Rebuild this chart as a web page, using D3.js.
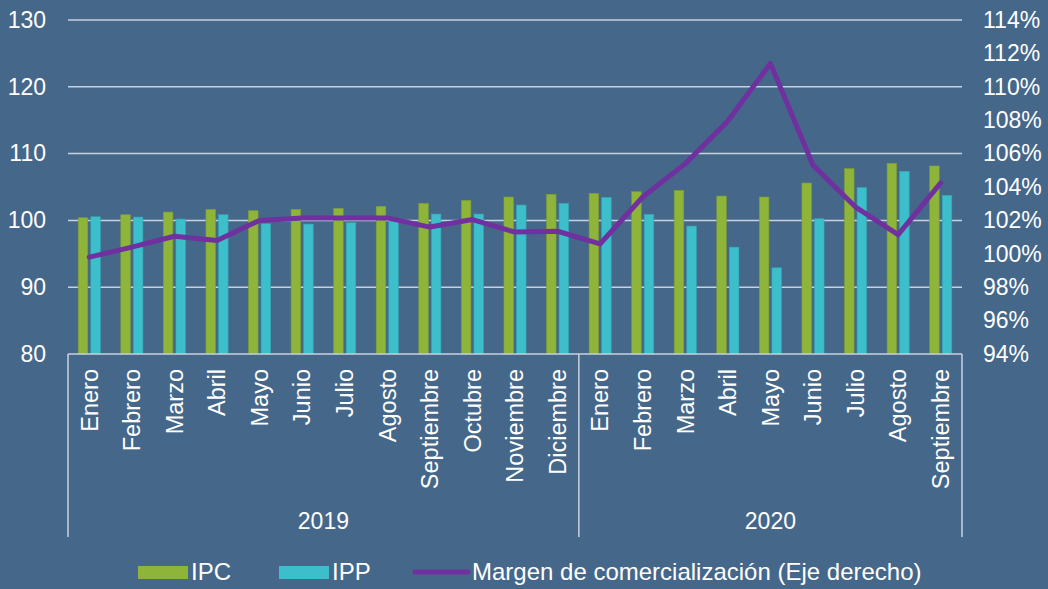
<!DOCTYPE html>
<html>
<head>
<meta charset="utf-8">
<script src="https://cdn.jsdelivr.net/npm/d3@7"></script>
<style>
  html, body { margin: 0; padding: 0; background: #45678a; }
  svg { display: block; font-family: "Liberation Sans", Arial, sans-serif; }
</style>
</head>
<body>
<div id="chart-container"></div>
<script>
// data
const months = ['Enero', 'Febrero', 'Marzo', 'Abril', 'Mayo', 'Junio', 'Julio', 'Agosto',
  'Septiembre', 'Octubre', 'Noviembre', 'Diciembre',
  'Enero', 'Febrero', 'Marzo', 'Abril', 'Mayo', 'Junio', 'Julio', 'Agosto', 'Septiembre'];
const years = [{label: '2019', count: 12}, {label: '2020', count: 9}];
const ipc = [100.4, 100.85, 101.25, 101.65, 101.45, 101.65, 101.8, 102.1, 102.55, 103.0, 103.5, 103.9,
  104.05, 104.3, 104.5, 103.65, 103.5, 105.6, 107.75, 108.55, 108.15];
const ipp = [100.55, 100.5, 100.2, 100.85, 99.5, 99.45, 99.65, 99.9, 100.95, 100.95, 102.3, 102.55,
  103.45, 100.9, 99.15, 96.0, 92.9, 100.25, 104.9, 107.35, 103.75];
const margen = [99.8, 100.4, 101.05, 100.8, 102.0, 102.15, 102.15, 102.15, 101.6, 102.05, 101.3, 101.35,
  100.6, 103.4, 105.4, 107.95, 111.4, 105.3, 102.8, 101.15, 104.25];
const leftTicks = [80, 90, 100, 110, 120, 130];
const rightTicks = [94, 96, 98, 100, 102, 104, 106, 108, 110, 112, 114];

const width = 1048, height = 589;
const plot = {left: 68, right: 962, top: 20, bottom: 354};
const colors = {ipc: '#8fb43a', ipp: '#3cbfcb', line: '#7030a0', grid: '#c8d1de', text: '#ffffff'};
const font = '"Liberation Sans", Arial, sans-serif';

const svg = d3.select('#chart-container').append('svg')
  .attr('width', width)
  .attr('height', height);

// scales
const x = d3.scaleBand().domain(d3.range(months.length)).range([plot.left, plot.right]);
const sub = d3.scaleBand().domain(['ipc', 'ipp']).range([x.bandwidth() * 0.24, x.bandwidth() * 0.76]).paddingInner(0.24);
const yLeft = d3.scaleLinear().domain([80, 130]).range([plot.bottom, plot.top]);
const yRight = d3.scaleLinear().domain([94, 114]).range([plot.bottom, plot.top]);

// gridlines
svg.append('g')
  .selectAll('line')
  .data(leftTicks.slice(1))
  .enter()
  .append('line')
  .attr('x1', plot.left)
  .attr('x2', plot.right)
  .attr('y1', d => yLeft(d))
  .attr('y2', d => yLeft(d))
  .attr('stroke', colors.grid)
  .attr('stroke-width', 1.5);

// left axis
const leftAxis = svg.append('g')
  .attr('transform', `translate(${plot.left},0)`)
  .call(d3.axisLeft(yLeft).tickValues(leftTicks).tickSize(0).tickPadding(22));
leftAxis.select('.domain').remove();
leftAxis.selectAll('text')
  .attr('fill', colors.text)
  .style('font-size', '23px')
  .style('font-family', font);

// right axis
const rightAxis = svg.append('g')
  .attr('transform', `translate(${plot.right},0)`)
  .call(d3.axisRight(yRight).tickValues(rightTicks).tickSize(0).tickPadding(21).tickFormat(d => d + '%'));
rightAxis.select('.domain').remove();
rightAxis.selectAll('text')
  .attr('fill', colors.text)
  .style('font-size', '23px')
  .style('font-family', font);

// bars
const groups = svg.append('g')
  .selectAll('g')
  .data(months.map((m, i) => ({i, ipc: ipc[i], ipp: ipp[i]})))
  .enter()
  .append('g')
  .attr('transform', d => `translate(${x(d.i)},0)`);

['ipc', 'ipp'].forEach(key => {
  groups.append('rect')
    .attr('x', sub(key))
    .attr('width', sub.bandwidth())
    .attr('y', d => yLeft(d[key]))
    .attr('height', d => yLeft(80) - yLeft(d[key]))
    .attr('fill', colors[key])
    .attr('stroke', d3.color(colors[key]).darker(0.4))
    .attr('stroke-width', 0.6);
});

// category axis line and group separators
const axisColor = '#c8d1de';
svg.append('line')
  .attr('x1', plot.left).attr('x2', plot.right)
  .attr('y1', plot.bottom).attr('y2', plot.bottom)
  .attr('stroke', axisColor).attr('stroke-width', 1.5);

let start = 0;
const bounds = [0];
years.forEach(y => { start += y.count; bounds.push(start); });
const bx = d => d < months.length ? x(d) : plot.right;
svg.append('g')
  .selectAll('line')
  .data(bounds)
  .enter()
  .append('line')
  .attr('x1', bx)
  .attr('x2', bx)
  .attr('y1', plot.bottom)
  .attr('y2', 537)
  .attr('stroke', axisColor)
  .attr('stroke-width', 1.5);

// month labels
svg.append('g')
  .selectAll('text')
  .data(months)
  .enter()
  .append('text')
  .attr('transform', (d, i) => `translate(${x(i) + x.bandwidth() / 2},369) rotate(-90)`)
  .attr('text-anchor', 'end')
  .attr('dy', '0.35em')
  .attr('fill', colors.text)
  .style('font-size', '23.5px')
  .text(d => d);

// year labels
svg.append('g')
  .selectAll('text')
  .data(years.map((y, k) => ({label: y.label, a: bounds[k], b: bounds[k + 1]})))
  .enter()
  .append('text')
  .attr('x', d => (bx(d.a) + bx(d.b)) / 2)
  .attr('y', 521)
  .attr('dy', '0.35em')
  .attr('text-anchor', 'middle')
  .attr('fill', colors.text)
  .style('font-size', '23px')
  .text(d => d.label);

// margin line on right axis
const line = d3.line()
  .x((d, i) => x(i) + x.bandwidth() / 2)
  .y(d => yRight(d));
svg.append('path')
  .datum(margen)
  .attr('d', line)
  .attr('fill', 'none')
  .attr('stroke', colors.line)
  .attr('stroke-width', 5)
  .attr('stroke-linejoin', 'round')
  .attr('stroke-linecap', 'round');

// legend
const legend = svg.append('g').attr('transform', 'translate(0,572)');
const legendItems = [
  {label: 'IPC', type: 'rect', color: colors.ipc, x: 138},
  {label: 'IPP', type: 'rect', color: colors.ipp, x: 279},
  {label: 'Margen de comercialización (Eje derecho)', type: 'line', color: colors.line, x: 413}
];
legendItems.forEach(item => {
  if (item.type === 'rect') {
    legend.append('rect')
      .attr('x', item.x).attr('y', -6)
      .attr('width', 50).attr('height', 13)
      .attr('fill', item.color);
  } else {
    legend.append('line')
      .attr('x1', item.x + 2).attr('x2', item.x + 55)
      .attr('y1', 0).attr('y2', 0)
      .attr('stroke', item.color).attr('stroke-width', 5)
      .attr('stroke-linecap', 'round');
  }
  legend.append('text')
    .attr('x', item.x + (item.type === 'rect' ? 53 : 59))
    .attr('y', 0)
    .attr('dy', '0.35em')
    .attr('fill', colors.text)
    .style('font-size', '24px')
    .text(item.label);
});
</script>
</body>
</html>
